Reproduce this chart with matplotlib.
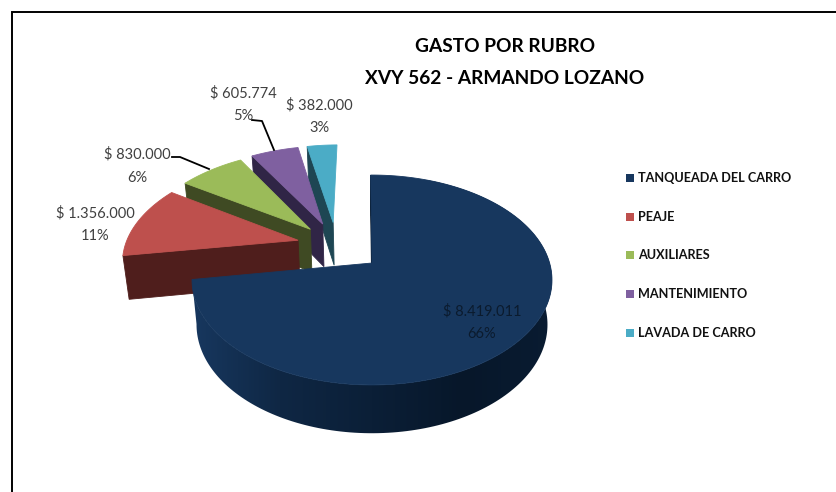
#!/usr/bin/env python3
"""
Gasto por rubro - exploded 3D style pie with perspective
"""

import numpy as np
import matplotlib
matplotlib.use('Agg')
import matplotlib.pyplot as plt
from matplotlib.colors import to_rgb
from matplotlib.patches import Polygon

# Data
categories = ['TANQUEADA DEL CARRO', 'PEAJE', 'AUXILIARES', 'MANTENIMIENTO', 'LAVADA DE CARRO']
values = [8419011, 1356000, 830000, 605774, 382000]
value_labels = ['$ 8.419.011', '$ 1.356.000', '$ 830.000', '$ 605.774', '$ 382.000']
pct_labels = ['66%', '11%', '6%', '5%', '3%']

# Styling
top_colors = ['#17375E', '#BE504D', '#9BBB59', '#7F60A0', '#4BACC6']
side_colors = ['#0A1C30', '#4F1E1C', '#3F4A23', '#302546', '#1E4653']
explode = [0.276, 0.23, 0.23, 0.24, 0.24]
label_pos = [(482, 323), (95, 225), (137, 166), (243, 105), (319, 117)]
FONT = ['Lato', 'DejaVu Sans']
TEXT_GREY = '#404040'

# Perspective of the pie plane, in pixels
X0, Y0 = 372, 263
AX, AY, K = 177.6, 102.2, 0.162
START = 90.5
NUDGE = (0.004, 0.005)


def project(u, v):
    """Disc coordinates to top plane pixels"""
    d = 1 + K * v
    return X0 + AX * u / d, Y0 - AY * v / d


def drop(x, y):
    """Top plane pixels to bottom plane pixels"""
    return X0 + 0.975 * (x - X0), Y0 + 1.035 * (y - Y0) + 44


def slice_angles():
    spans = 360 * np.array(values) / np.sum(values)
    ends = START - np.cumsum(spans)
    starts = ends + spans
    return starts, ends


def draw_wall_gradient(ax, xs, ys):
    """Shaded outer wall of the big slice, clipped from a gradient image"""
    bx, by = drop(xs, ys)
    pts = np.column_stack([np.r_[xs, bx[::-1]], np.r_[ys, by[::-1]]])
    clip = Polygon(pts, closed=True, transform=ax.transData, fc='none', ec='none')
    ax.add_patch(clip)

    light = np.array(to_rgb(top_colors[0]))
    dark = np.array(to_rgb('#07172A'))
    cols = np.arange(190, 560)
    t = np.interp(cols, [195, 280, 463, 553], [0.0, 0.5, 1.0, 0.85])
    img = (light[None, :] * (1 - t[:, None]) + dark[None, :] * t[:, None])[None, :, :]
    im = ax.imshow(img, extent=(190, 560, 450, 180), aspect='auto', interpolation='bilinear', zorder=1)
    im.set_clip_path(clip)
    ax.set_xlim(0, 837)
    ax.set_ylim(492, 0)


def draw_slice(ax, i, centre, starts, ends):
    hi, lo = starts[i], ends[i]
    mid = np.radians((hi + lo) / 2)
    au = centre[0] + explode[i] * np.cos(mid)
    av = centre[1] + explode[i] * np.sin(mid)
    if i > 0:
        au += NUDGE[0]
        av += NUDGE[1]
    theta = np.radians(np.linspace(lo, hi, 200))
    xs, ys = project(au + np.cos(theta), av + np.sin(theta))
    apex = project(au, av)

    # wall under the radial edge
    ex, ey = xs[-1], ys[-1]
    bex, bey = drop(ex, ey)
    bax, bay = drop(*apex)
    if i == 0:
        draw_wall_gradient(ax, xs, ys)
        ax.fill([ex, apex[0], bax, bex], [ey, apex[1], bay, bey],
                color=side_colors[0], lw=0.6, zorder=1)
        z = 3
    else:
        ax.fill([ex, apex[0], bax, bex], [ey, apex[1], bay, bey],
                color=side_colors[i], lw=0.6, zorder=0.5)
        z = 0.5

    ax.fill(np.r_[apex[0], xs], np.r_[apex[1], ys], color=top_colors[i], lw=0.6, zorder=z)


def main():
    fig = plt.figure(figsize=(8.37, 4.92), dpi=100, facecolor='white')
    ax = fig.add_axes([0, 0, 1, 1])
    ax.set_xlim(0, 837)
    ax.set_ylim(492, 0)
    ax.axis('off')

    # Frame
    ax.plot([12.5, 12.5, 837], [492, 11.5, 11.5], color='black', lw=1.4,
            solid_joinstyle='miter', zorder=5)

    # Title
    ax.text(505, 46, 'GASTO POR RUBRO', family=FONT, fontsize=13.8, fontweight='bold',
            ha='center', va='center', color='black', zorder=5)
    ax.text(505, 79, 'XVY 562 - ARMANDO LOZANO', family=FONT, fontsize=13.8, fontweight='bold',
            ha='center', va='center', color='black', zorder=5)

    # Pie, back slices first
    starts, ends = slice_angles()
    mid0 = np.radians((starts[0] + ends[0]) / 2)
    centre = (-explode[0] * np.cos(mid0), -explode[0] * np.sin(mid0))
    for i in [4, 3, 2, 1, 0]:
        draw_slice(ax, i, centre, starts, ends)

    # Leader lines
    ax.plot([172, 180, 209], [157, 157, 169], color='black', lw=1.3, zorder=5)
    ax.plot([252, 262, 274], [120, 121, 150], color='black', lw=1.3, zorder=5)

    # Value labels
    for i, (x, y) in enumerate(label_pos):
        col = '#0B1B2E' if i == 0 else TEXT_GREY
        ax.text(x, y - 11.5, value_labels[i], family=FONT, fontsize=10.5,
                ha='center', va='center', color=col, zorder=5)
        ax.text(x, y + 11.5, pct_labels[i], family=FONT, fontsize=10.5,
                ha='center', va='center', color=col, zorder=5)

    # Legend
    for i, name in enumerate(categories):
        y = 178 + i * 38.7
        ax.fill([626, 634, 634, 626], [y - 4, y - 4, y + 4, y + 4], color=top_colors[i], lw=0)
        ax.text(638, y, name, family=FONT, fontsize=9.1, fontweight='bold',
                ha='left', va='center', color='#111111')

    fig.savefig('out.png', dpi=100, facecolor='white')
    plt.close(fig)


if __name__ == '__main__':
    main()
